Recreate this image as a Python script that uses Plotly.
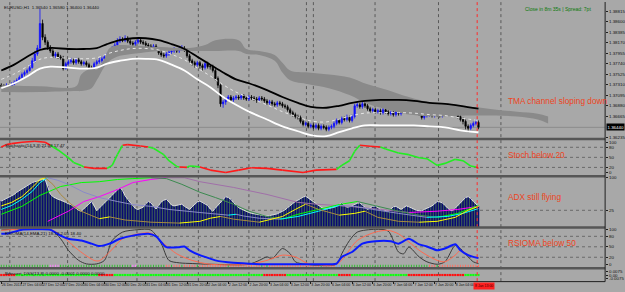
import plotly.graph_objects as go

# ================= DATA =================
opens = [1.3730, 1.3728, 1.3726, 1.3730, 1.3728, 1.3732, 1.3736, 1.3740, 1.3746, 1.3752,
         1.3756, 1.3760, 1.3766, 1.3780, 1.3794, 1.3806, 1.3856, 1.3828, 1.3818, 1.3808,
         1.3800, 1.3790, 1.3794, 1.3788, 1.3786, 1.3764, 1.3774, 1.3778, 1.3780, 1.3776,
         1.3782, 1.3778, 1.3774, 1.3776, 1.3772, 1.3766, 1.3764, 1.3774, 1.3778, 1.3780,
         1.3784, 1.3788, 1.3790, 1.3794, 1.3806, 1.3812, 1.3820, 1.3824, 1.3822, 1.3826,
         1.3820, 1.3816, 1.3814, 1.3818, 1.3822, 1.3818, 1.3816, 1.3812, 1.3810, 1.3808,
         1.3810, 1.3806, 1.3796, 1.3792, 1.3790, 1.3794, 1.3798, 1.3800, 1.3802, 1.3800,
         1.3804, 1.3806, 1.3802, 1.3790, 1.3780, 1.3776, 1.3772, 1.3776, 1.3770, 1.3766,
         1.3774, 1.3768, 1.3768, 1.3760, 1.3744, 1.3730, 1.3692, 1.3696, 1.3702, 1.3706,
         1.3700, 1.3704, 1.3706, 1.3704, 1.3708, 1.3704, 1.3702, 1.3706, 1.3704, 1.3702,
         1.3700, 1.3704, 1.3702, 1.3698, 1.3694, 1.3696, 1.3692, 1.3690, 1.3694, 1.3692,
         1.3688, 1.3686, 1.3680, 1.3674, 1.3670, 1.3666, 1.3664, 1.3656, 1.3650, 1.3652,
         1.3646, 1.3648, 1.3644, 1.3648, 1.3642, 1.3646, 1.3644, 1.3640, 1.3644, 1.3646,
         1.3652, 1.3658, 1.3654, 1.3662, 1.3660, 1.3664, 1.3658, 1.3666, 1.3688, 1.3690,
         1.3686, 1.3692, 1.3688, 1.3682, 1.3678, 1.3680, 1.3676, 1.3678, 1.3674, 1.3680,
         1.3676, 1.3672, 1.3674, 1.3670, 1.3676, 1.3672, 1.3680, 1.3688, 1.3684, 1.3686,
         1.3680, 1.3676, 1.3682, 1.3672, 1.3664, 1.3668, 1.3670, 1.3670, 1.3668, 1.3672,
         1.3670, 1.3668, 1.3674, 1.3676, 1.3672, 1.3678, 1.3674, 1.3672, 1.3666, 1.3660,
         1.3656, 1.3646, 1.3642, 1.3648, 1.3652, 1.3654]
highs = [1.3734, 1.3732, 1.3734, 1.3732, 1.3736, 1.3740, 1.3744, 1.3750, 1.3756, 1.3760,
         1.3764, 1.3772, 1.3786, 1.3800, 1.3812, 1.3886, 1.3864, 1.3834, 1.3822, 1.3812,
         1.3804, 1.3798, 1.3798, 1.3792, 1.3790, 1.3778, 1.3782, 1.3786, 1.3784, 1.3786,
         1.3786, 1.3782, 1.3780, 1.3780, 1.3776, 1.3770, 1.3778, 1.3782, 1.3786, 1.3788,
         1.3792, 1.3796, 1.3798, 1.3810, 1.3816, 1.3826, 1.3830, 1.3828, 1.3832, 1.3830,
         1.3824, 1.3820, 1.3822, 1.3828, 1.3826, 1.3822, 1.3820, 1.3816, 1.3814, 1.3814,
         1.3814, 1.3808, 1.3800, 1.3796, 1.3798, 1.3802, 1.3804, 1.3808, 1.3806, 1.3808,
         1.3812, 1.3810, 1.3806, 1.3794, 1.3784, 1.3780, 1.3780, 1.3780, 1.3774, 1.3778,
         1.3778, 1.3772, 1.3772, 1.3764, 1.3748, 1.3734, 1.3700, 1.3706, 1.3710, 1.3710,
         1.3708, 1.3710, 1.3710, 1.3712, 1.3712, 1.3708, 1.3710, 1.3710, 1.3708, 1.3706,
         1.3708, 1.3708, 1.3706, 1.3702, 1.3700, 1.3700, 1.3696, 1.3698, 1.3698, 1.3696,
         1.3692, 1.3690, 1.3684, 1.3678, 1.3674, 1.3670, 1.3668, 1.3660, 1.3656, 1.3656,
         1.3652, 1.3652, 1.3652, 1.3652, 1.3650, 1.3650, 1.3648, 1.3648, 1.3650, 1.3656,
         1.3662, 1.3662, 1.3666, 1.3666, 1.3670, 1.3668, 1.3670, 1.3692, 1.3696, 1.3694,
         1.3696, 1.3696, 1.3692, 1.3686, 1.3684, 1.3684, 1.3682, 1.3682, 1.3684, 1.3684,
         1.3680, 1.3678, 1.3678, 1.3680, 1.3680, 1.3684, 1.3692, 1.3692, 1.3690, 1.3690,
         1.3684, 1.3686, 1.3686, 1.3676, 1.3672, 1.3674, 1.3674, 1.3674, 1.3676, 1.3676,
         1.3674, 1.3678, 1.3680, 1.3680, 1.3682, 1.3682, 1.3678, 1.3676, 1.3670, 1.3664,
         1.3660, 1.3650, 1.3652, 1.3656, 1.3660, 1.3658]
lows = [1.3724, 1.3722, 1.3724, 1.3726, 1.3726, 1.3730, 1.3734, 1.3738, 1.3744, 1.3748,
        1.3752, 1.3758, 1.3764, 1.3776, 1.3790, 1.3802, 1.3822, 1.3812, 1.3802, 1.3796,
        1.3786, 1.3786, 1.3784, 1.3782, 1.3760, 1.3762, 1.3770, 1.3774, 1.3772, 1.3772,
        1.3774, 1.3770, 1.3770, 1.3768, 1.3762, 1.3760, 1.3762, 1.3770, 1.3774, 1.3776,
        1.3780, 1.3784, 1.3786, 1.3792, 1.3802, 1.3808, 1.3816, 1.3818, 1.3818, 1.3816,
        1.3812, 1.3810, 1.3810, 1.3814, 1.3814, 1.3812, 1.3808, 1.3806, 1.3804, 1.3804,
        1.3802, 1.3792, 1.3788, 1.3786, 1.3786, 1.3790, 1.3794, 1.3796, 1.3796, 1.3796,
        1.3800, 1.3798, 1.3786, 1.3776, 1.3770, 1.3766, 1.3768, 1.3764, 1.3760, 1.3762,
        1.3764, 1.3762, 1.3756, 1.3740, 1.3724, 1.3686, 1.3684, 1.3690, 1.3698, 1.3696,
        1.3696, 1.3700, 1.3700, 1.3700, 1.3700, 1.3698, 1.3698, 1.3700, 1.3698, 1.3694,
        1.3696, 1.3698, 1.3694, 1.3690, 1.3690, 1.3688, 1.3686, 1.3686, 1.3688, 1.3684,
        1.3682, 1.3676, 1.3670, 1.3666, 1.3662, 1.3660, 1.3652, 1.3646, 1.3646, 1.3642,
        1.3642, 1.3640, 1.3640, 1.3638, 1.3638, 1.3640, 1.3636, 1.3636, 1.3640, 1.3642,
        1.3648, 1.3650, 1.3650, 1.3656, 1.3656, 1.3654, 1.3654, 1.3662, 1.3684, 1.3682,
        1.3682, 1.3684, 1.3678, 1.3674, 1.3674, 1.3672, 1.3672, 1.3670, 1.3670, 1.3672,
        1.3668, 1.3668, 1.3666, 1.3666, 1.3668, 1.3668, 1.3676, 1.3680, 1.3680, 1.3676,
        1.3672, 1.3672, 1.3668, 1.3660, 1.3660, 1.3664, 1.3666, 1.3664, 1.3664, 1.3666,
        1.3664, 1.3664, 1.3670, 1.3668, 1.3668, 1.3670, 1.3668, 1.3662, 1.3656, 1.3650,
        1.3640, 1.3634, 1.3638, 1.3644, 1.3648, 1.3640]
closes = [1.3728, 1.3726, 1.3730, 1.3728, 1.3732, 1.3736, 1.3740, 1.3746, 1.3752, 1.3756,
          1.3760, 1.3766, 1.3780, 1.3794, 1.3806, 1.3856, 1.3828, 1.3818, 1.3808, 1.3800,
          1.3790, 1.3794, 1.3788, 1.3786, 1.3764, 1.3774, 1.3778, 1.3780, 1.3776, 1.3782,
          1.3778, 1.3774, 1.3776, 1.3772, 1.3766, 1.3764, 1.3774, 1.3778, 1.3780, 1.3784,
          1.3788, 1.3790, 1.3794, 1.3806, 1.3812, 1.3820, 1.3824, 1.3822, 1.3826, 1.3820,
          1.3816, 1.3814, 1.3818, 1.3822, 1.3818, 1.3816, 1.3812, 1.3810, 1.3808, 1.3810,
          1.3806, 1.3796, 1.3792, 1.3790, 1.3794, 1.3798, 1.3800, 1.3802, 1.3800, 1.3804,
          1.3806, 1.3802, 1.3790, 1.3780, 1.3776, 1.3772, 1.3776, 1.3770, 1.3766, 1.3774,
          1.3768, 1.3768, 1.3760, 1.3744, 1.3730, 1.3692, 1.3696, 1.3702, 1.3706, 1.3700,
          1.3704, 1.3706, 1.3704, 1.3708, 1.3704, 1.3702, 1.3706, 1.3704, 1.3702, 1.3700,
          1.3704, 1.3702, 1.3698, 1.3694, 1.3696, 1.3692, 1.3690, 1.3694, 1.3692, 1.3688,
          1.3686, 1.3680, 1.3674, 1.3670, 1.3666, 1.3664, 1.3656, 1.3650, 1.3652, 1.3646,
          1.3648, 1.3644, 1.3648, 1.3642, 1.3646, 1.3644, 1.3640, 1.3644, 1.3646, 1.3652,
          1.3658, 1.3654, 1.3662, 1.3660, 1.3664, 1.3658, 1.3666, 1.3688, 1.3690, 1.3686,
          1.3692, 1.3688, 1.3682, 1.3678, 1.3680, 1.3676, 1.3678, 1.3674, 1.3680, 1.3676,
          1.3672, 1.3674, 1.3670, 1.3676, 1.3672, 1.3680, 1.3688, 1.3684, 1.3686, 1.3680,
          1.3676, 1.3682, 1.3672, 1.3664, 1.3668, 1.3670, 1.3670, 1.3668, 1.3672, 1.3670,
          1.3668, 1.3674, 1.3676, 1.3672, 1.3678, 1.3674, 1.3672, 1.3666, 1.3660, 1.3656,
          1.3646, 1.3642, 1.3648, 1.3652, 1.3654, 1.3644]
bars = list(range(len(closes)))

tma_bars = [0, 5, 10, 15, 19, 26, 32, 37, 41, 46, 51, 56, 61, 66, 71, 76, 81, 86, 91, 96,
            103, 109, 115, 120, 126, 131, 136, 141, 147, 154, 160, 166, 172, 178, 185]
tma_upper = [1.3760, 1.3772, 1.3788, 1.3802, 1.3806, 1.3804, 1.3804, 1.3806, 1.3814, 1.3822,
             1.3826, 1.3826, 1.3822, 1.3814, 1.3804, 1.3788, 1.3772, 1.3756, 1.3742, 1.3734,
             1.3720, 1.3706, 1.3694, 1.3686, 1.3684, 1.3688, 1.3694, 1.3698, 1.3700, 1.3700,
             1.3698, 1.3694, 1.3692, 1.3688, 1.3682]
tma_mid = [1.3742, 1.3753, 1.3768, 1.3783, 1.3787, 1.3785, 1.3784, 1.3786, 1.3794, 1.3801,
           1.3805, 1.3805, 1.3802, 1.3793, 1.3782, 1.3765, 1.3749, 1.3731, 1.3716, 1.3705,
           1.3690, 1.3676, 1.3665, 1.3657, 1.3655, 1.3661, 1.3668, 1.3673, 1.3674, 1.3674,
           1.3673, 1.3670, 1.3668, 1.3663, 1.3658]
tma_lower = [1.3724, 1.3734, 1.3748, 1.3764, 1.3768, 1.3766, 1.3764, 1.3766, 1.3774, 1.3780,
             1.3784, 1.3784, 1.3782, 1.3772, 1.3760, 1.3742, 1.3726, 1.3706, 1.3690, 1.3676,
             1.3660, 1.3646, 1.3636, 1.3628, 1.3626, 1.3634, 1.3642, 1.3648, 1.3648, 1.3648,
             1.3648, 1.3646, 1.3644, 1.3638, 1.3634]

cloud_bars = [0, 15, 29, 31, 35, 37, 40, 42, 46, 54, 62, 73, 79, 83, 92, 95, 100, 106, 109, 112,
              119, 127, 135, 142, 150, 158, 169, 181, 186, 192, 200, 208, 212]
cloud_span_a = [1.3730, 1.3728, 1.3728, 1.3752, 1.3764, 1.3762, 1.3784, 1.3806, 1.3812, 1.3810,
                1.3808, 1.3806, 1.3812, 1.3822, 1.3822, 1.3804, 1.3800, 1.3792, 1.3776, 1.3760,
                1.3756, 1.3752, 1.3746, 1.3732, 1.3720, 1.3706, 1.3692, 1.3686, 1.3684, 1.3680,
                1.3676, 1.3672, 1.3666]
cloud_span_b = [1.3716, 1.3716, 1.3718, 1.3718, 1.3724, 1.3740, 1.3768, 1.3780, 1.3790, 1.3796,
                1.3800, 1.3800, 1.3800, 1.3800, 1.3800, 1.3794, 1.3792, 1.3780, 1.3756, 1.3740,
                1.3732, 1.3724, 1.3710, 1.3692, 1.3680, 1.3670, 1.3666, 1.3668, 1.3668, 1.3668,
                1.3666, 1.3660, 1.3652]

# right-hand price scale (the one at the bid price is hidden by the price box)
price_ticks = [1.36235, 1.36665, 1.36880, 1.37095, 1.37310, 1.37525, 1.37740, 1.37955,
               1.38170, 1.38385, 1.38600, 1.38815]

stoch_bars = [0, 2, 4, 8, 13, 17, 19, 22, 26, 28, 31, 32, 36, 41, 43, 45, 47, 49, 54, 57,
              59, 63, 65, 68, 69, 72, 73, 75, 77, 81, 87, 92, 97, 103, 109, 117, 122, 130, 132, 135,
              137, 139, 143, 147, 149, 154, 158, 162, 165, 169, 172, 176, 179, 182, 184, 185]
stoch_vals = [81, 88, 91, 95, 98, 95, 86, 72, 49, 35, 26, 21, 17, 17, 26, 58, 86, 88, 84, 81,
              77, 58, 40, 23, 21, 20, 24, 23, 21, 12, 5, 12, 19, 17, 12, 5, 12, 14, 26, 40,
              68, 86, 83, 81, 75, 63, 58, 49, 46, 26, 32, 44, 40, 24, 21, 17]
# MT4 keeps the end labels inside the window
stoch_tick_pos = [6, 20, 50, 80, 94]
stoch_tick_text = ["0", "20", "50", "80", "100"]

adx_hist = [46, 49, 52, 55, 58, 61, 66, 70, 73, 77,
            81, 85, 88, 90, 92, 94, 95, 95, 80, 62,
            56, 52, 50, 48, 46, 43, 40, 38, 34, 29,
            25, 23, 28, 33, 40, 45, 35, 24, 30, 36,
            41, 47, 52, 60, 66, 72, 77, 70, 58, 50,
            43, 36, 29, 27, 30, 32, 40, 45, 42, 35,
            28, 36, 44, 48, 50, 44, 37, 35, 36, 38,
            39, 34, 30, 27, 33, 39, 44, 46, 43, 40,
            36, 28, 23, 30, 36, 42, 50, 56, 54, 50,
            43, 36, 31, 28, 25, 22, 20, 18, 17, 16,
            16, 14, 13, 12, 13, 14, 15, 17, 20, 23,
            26, 31, 36, 41, 45, 48, 52, 55, 57, 53,
            48, 43, 39, 35, 31, 28, 28, 29, 30, 32,
            34, 39, 42, 37, 32, 33, 36, 39, 41, 42,
            38, 32, 27, 30, 34, 35, 31, 27, 26, 24,
            23, 28, 33, 34, 30, 27, 31, 35, 33, 30,
            27, 25, 24, 24, 27, 30, 33, 35, 40, 45,
            44, 42, 36, 30, 25, 24, 30, 35, 41, 48,
            54, 56, 52, 45, 39, 34]

adx1_bars = [0, 4, 8, 12, 15, 17, 20, 23, 27, 31, 35, 38, 42, 48, 58, 69, 77, 81, 85, 90,
             100, 109, 114, 118, 123, 131, 137, 141, 146, 154, 162, 169, 176, 181, 185]
adx1_vals = [35, 43, 56, 77, 95, 99, 84, 61, 39, 23, 13, 6, 10, 3, -2, -4, 0, 7, 11, 5,
             -2, 11, 27, 39, 27, 14, 18, 23, 9, 0, -2, 0, 9, 25, 34]
adx2_bars = [0, 4, 8, 12, 15, 18, 22, 26, 32, 38, 45, 51, 58, 65, 77, 88, 91, 94, 100, 108,
             115, 123, 131, 137, 144, 154, 165, 173, 179, 185]
adx2_vals = [27, 36, 50, 68, 88, 99, 93, 84, 66, 54, 45, 38, 34, 27, 20, 14, 16, 12, 7, 5,
             11, 23, 36, 34, 27, 18, 9, 11, 18, 29]
adx3_bars = [0, 8, 15, 23, 31, 38, 45, 51, 58, 64, 70, 77, 83, 90, 96, 103, 109, 115, 123, 131,
             138, 146, 154, 162, 169, 177, 181, 185]
adx3_vals = [16, 34, 59, 79, 88, 90, 95, 97, 99, 97, 84, 66, 54, 39, 23, 11, 5, 16, 27, 38,
             45, 34, 23, 14, 9, 18, 27, 36]
adx4_bars = [18, 26, 32, 38, 45, 51, 58, 64, 71, 77, 90, 103, 115, 122, 135, 147, 158, 169, 177, 185]
adx4_vals = [0, 23, 45, 56, 72, 88, 95, 99, 99, 90, 77, 61, 43, 39, 34, 27, 20, 23, 27, 34]

rsi_blue_bars = [0, 3, 8, 13, 19, 23, 26, 31, 35, 38, 42, 46, 51, 57, 60, 64, 69, 71, 73, 77,
                 81, 83, 90, 103, 115, 128, 130, 132, 136, 140, 145, 151, 154, 158, 162, 165,
                 169, 172, 176, 178, 181, 183, 185]
rsi_blue_vals = [87, 89, 99, 100, 99, 82, 73, 68, 59, 52, 59, 73, 82, 87, 80, 49, 49, 51, 40, 26,
                 16, 11, 4, 0, 0, 0, 2, 21, 35, 59, 66, 66, 59, 73, 57, 51,
                 40, 45, 57, 40, 26, 21, 18]
rsi_gray_bars = [0, 19, 23, 26, 30, 33, 37, 40, 43, 47, 53, 58, 62, 65, 69, 74, 81, 96, 100, 103,
                 105, 109, 112, 114, 118, 130, 132, 135, 138, 145, 150, 154, 156, 158, 162, 165,
                 169, 172, 176, 178, 181, 183, 185]
rsi_gray_vals = [98, 99, 73, 40, 11, 1, 1, 11, 68, 92, 99, 98, 59, 11, 4, 2, 0, 0, 11, 21,
                 16, 45, 30, 7, 0, 0, 30, 68, 92, 100, 95, 35, 30, 49, 21, 7,
                 0, 7, 54, 45, 21, 7, 2]
rsi_red_bars = [0, 19, 24, 30, 36, 38, 42, 47, 53, 58, 63, 68, 74, 81, 96, 103, 109, 114, 119, 130,
                133, 138, 145, 150, 154, 158, 162, 165, 169, 172, 176, 178, 181, 183, 185]
rsi_red_vals = [97, 100, 78, 40, 11, 10, 35, 73, 87, 89, 59, 30, 11, 0, 0, 11, 26, 21, 2, 0,
                21, 68, 92, 97, 87, 64, 40, 26, 11, 7, 26, 40, 26, 21, 18]

rsi_tick_runs = [("g", 19), ("p", 4), ("g", 28), ("p", 2), ("g", 11),
                 ("r", 2), ("g", 1), ("r", 3), ("g", 1), ("r", 5), ("g", 1), ("r", 4),
                 ("r", 7), ("g", 1), ("r", 12), ("g", 1), ("r", 1), ("g", 1), ("r", 20), ("g", 1), ("r", 5),
                 ("b", 2), ("g", 34), ("r", 3), ("g", 1), ("r", 16)]
dss_runs = [("r", 6), ("g", 32), ("r", 6), ("g", 58), ("r", 9), ("g", 20), ("r", 5),
            ("g", 22), ("r", 22), ("g", 6)]

date_tick_bars = [0, 8, 16, 24, 32, 40, 48, 56, 64, 72, 80, 88, 96, 104, 112, 120, 128, 136,
                  144, 152, 160, 168, 176]
date_labels = ["26 Dec 2013", "27 Dec 04:00", "27 Dec 12:00", "27 Dec 20:00", "30 Dec 04:00",
               "30 Dec 12:00", "30 Dec 20:00", "31 Dec 04:00", "31 Dec 12:00", "31 Dec 20:00",
               "2 Jan 04:00", "2 Jan 12:00", "2 Jan 20:00", "3 Jan 04:00", "3 Jan 12:00",
               "3 Jan 20:00", "6 Jan 04:00", "6 Jan 12:00", "6 Jan 20:00", "7 Jan 04:00",
               "7 Jan 12:00", "7 Jan 20:00", "8 Jan 04:00"]
separator_bars = [3.3, 25.7, 52.6, 76.4, 96.0, 118.3, 121.0, 144.9, 169.5, 193.7]
current_bar_line = 184.5
current_time_label = "8 Jan 13:00"

# ================= STYLE / LAYOUT =================
W, H = 625, 292
XR = 610 / W
BG = "#a8a8a8"
TXT = "#101010"
SMALL = dict(family="Liberation Sans, Arial", size=4.4, color=TXT)
DATEF = dict(family="Liberation Sans, Arial", size=3.5, color=TXT)
RED_TXT = "#ee4422"


def pp(p):
    return 1 - p / H


PRICE_RANGE = [1.3622, 1.3900]
STOCH_RANGE = [-4.4, 101.5]
ADX_RANGE = [-13.3, 100.5]
RSI_RANGE = [-9.4, 102.8]
DSS_RANGE = [-0.012, 0.012]

fig = go.Figure()


def add_seg(xs, ys, colfn, yaxis, width):
    groups = {}
    for i in range(len(xs) - 1):
        c = colfn(ys[i], ys[i + 1])
        gx, gy = groups.setdefault(c, ([], []))
        gx += [xs[i], xs[i + 1], None]
        gy += [ys[i], ys[i + 1], None]
    for c, (gx, gy) in groups.items():
        fig.add_trace(go.Scatter(x=gx, y=gy, mode="lines", yaxis=yaxis, hoverinfo="skip",
                                 line=dict(color=c, width=width)))


# ---- main panel ----
fig.add_trace(go.Scatter(x=cloud_bars, y=cloud_span_a, mode="lines", yaxis="y",
                         line=dict(width=0, color="#8a8a8a", shape="spline"), hoverinfo="skip"))
fig.add_trace(go.Scatter(x=cloud_bars, y=cloud_span_b, mode="lines", yaxis="y", fill="tonexty",
                         fillcolor="#8a8a8a", line=dict(width=0, color="#8a8a8a", shape="spline"),
                         hoverinfo="skip"))
fig.add_trace(go.Scatter(x=tma_bars, y=tma_mid, mode="lines", yaxis="y", hoverinfo="skip",
                         line=dict(color="#e6e6e6", width=1, dash="dot", shape="spline")))
fig.add_trace(go.Candlestick(x=bars, open=opens, high=highs, low=lows, close=closes, yaxis="y",
                             whiskerwidth=0, hoverinfo="skip",
                             increasing=dict(line=dict(color="#1010ff", width=0.8), fillcolor="#1010ff"),
                             decreasing=dict(line=dict(color="#000000", width=0.8), fillcolor="#000000")))
fig.add_trace(go.Scatter(x=tma_bars, y=tma_upper, mode="lines", yaxis="y", hoverinfo="skip",
                         line=dict(color="#000000", width=1.8, shape="spline")))
fig.add_trace(go.Scatter(x=tma_bars, y=tma_lower, mode="lines", yaxis="y", hoverinfo="skip",
                         line=dict(color="#ffffff", width=1.8, shape="spline")))

# ---- stochastic ----
add_seg(stoch_bars, stoch_vals,
        lambda a, b: "#ff1a1a" if (min(a, b) >= 80 or max(a, b) <= 22) else "#22ee22",
        "y2", 1.6)

# ---- ADX panel ----
ADX_BOT = ADX_RANGE[0]
fig.add_trace(go.Scatter(x=bars + [bars[-1], bars[0]], y=adx_hist + [ADX_BOT, ADX_BOT],
                         mode="lines", fill="toself", fillcolor="#3f5f58", line=dict(width=0),
                         yaxis="y3", hoverinfo="skip"))
hx, hy = [], []
for b, v in zip(bars, adx_hist):
    hx += [b, b, None]
    hy += [ADX_BOT, v, None]
fig.add_trace(go.Scatter(x=hx, y=hy, mode="lines", yaxis="y3", hoverinfo="skip",
                         line=dict(color="#0a0a72", width=1.5)))
fig.add_trace(go.Scatter(x=bars, y=adx_hist, mode="lines", yaxis="y3", hoverinfo="skip",
                         line=dict(color="#dcdcdc", width=1)))
for xs, ys, up, dn in [(adx4_bars, adx4_vals, "#ff00ff", "#a070a8"),
                       (adx3_bars, adx3_vals, "#00ff00", "#3c8a50"),
                       (adx2_bars, adx2_vals, "#00ffff", "#8a8ac8"),
                       (adx1_bars, adx1_vals, "#ffff00", "#a88a40")]:
    add_seg(xs, ys, lambda a, b, u=up, d=dn: u if b > a else d, "y3", 1)

# ---- RSIOMA ----
state_col = {"g": "#30c030", "p": "#ff80ff", "r": "#ff7060", "b": "#60a0ff"}
tick_states = [s for s, n in rsi_tick_runs for _ in range(n)]
tx = {}
for b, s in zip(bars, tick_states):
    gx, gy = tx.setdefault(s, ([], []))
    gx += [b, b, None]
    gy += [-8.5, -1.5, None]
for s, (gx, gy) in tx.items():
    fig.add_trace(go.Scatter(x=gx, y=gy, mode="lines", yaxis="y4", hoverinfo="skip",
                             line=dict(color=state_col[s], width=1)))
fig.add_trace(go.Scatter(x=rsi_gray_bars, y=rsi_gray_vals, mode="lines", yaxis="y4", hoverinfo="skip",
                         line=dict(color="#3a3a3a", width=1, shape="spline", smoothing=0.8)))
fig.add_trace(go.Scatter(x=rsi_red_bars, y=rsi_red_vals, mode="lines", yaxis="y4", hoverinfo="skip",
                         line=dict(color="#ff6a50", width=1, shape="spline", smoothing=0.8)))
fig.add_trace(go.Scatter(x=rsi_blue_bars, y=rsi_blue_vals, mode="lines", yaxis="y4", hoverinfo="skip",
                         line=dict(color="#0a1aff", width=2, shape="spline", smoothing=0.6)))

# ---- DSS dots ----
dss_states = [s for s, n in dss_runs for _ in range(n)]
dss_col = {"r": "#ff1010", "g": "#10ff10"}
fig.add_trace(go.Scatter(x=bars, y=[0.0] * len(bars), mode="markers", yaxis="y5", hoverinfo="skip",
                         marker=dict(symbol="square", size=2.2, color=[dss_col[s] for s in dss_states],
                                     line=dict(width=0))))

# ================= SHAPES =================
shapes = []
for sb in separator_bars:
    shapes.append(dict(type="line", xref="x", yref="paper", x0=sb, x1=sb, y0=pp(283), y1=1,
                       line=dict(color="#5a5a5a", width=1, dash="dot"), layer="below"))
shapes.append(dict(type="line", xref="x", yref="paper", x0=current_bar_line, x1=current_bar_line,
                   y0=pp(283), y1=1, line=dict(color="#ff2a2a", width=1, dash="dot"), layer="above"))
for yref, lv in [("y2", 80), ("y2", 50), ("y2", 20), ("y3", 25), ("y4", 80), ("y4", 50), ("y4", 20)]:
    shapes.append(dict(type="line", xref="paper", yref=yref, x0=0, x1=XR, y0=lv, y1=lv,
                       line=dict(color="#6a6a6a", width=1, dash="dot"), layer="below"))
shapes.append(dict(type="line", xref="paper", yref="y", x0=0, x1=XR, y0=closes[-1], y1=closes[-1],
                   line=dict(color="#8c8c8c", width=1), layer="below"))
for p, w, c in [(139, 2.5, "#565656"), (176.6, 2.5, "#565656"), (228.7, 2.5, "#565656"),
                (269.9, 2.5, "#565656"), (283.5, 1, "#202020")]:
    shapes.append(dict(type="line", xref="paper", yref="paper", x0=0, x1=XR, y0=pp(p), y1=pp(p),
                       line=dict(color=c, width=w)))
shapes.append(dict(type="line", xref="paper", yref="paper", x0=XR, x1=XR, y0=pp(283.5), y1=1,
                   line=dict(color="#202020", width=1)))

# ================= ANNOTATIONS =================
ann = []
red_font = dict(family="Liberation Sans, Arial", size=8.3, color=RED_TXT)
for txt, ypx in [("TMA channel sloping down", 100), ("Stoch below 20", 155),
                 ("ADX still flying", 198), ("RSIOMA below 50", 244)]:
    ann.append(dict(text=txt, xref="paper", yref="paper", x=510 / W, y=pp(ypx), xanchor="left",
                    yanchor="middle", showarrow=False, font=red_font))
ann.append(dict(text="EURUSD,H1  %.5f %.5f %.5f %.5f" % (opens[-1], highs[-1], lows[-1], closes[-1]),
                xref="paper", yref="paper", x=2 / W, y=pp(1), xanchor="left", yanchor="top",
                showarrow=False, font=SMALL))
ann.append(dict(text="Close in 8m 35s | Spread: 7pt", xref="paper", yref="paper", x=598 / W, y=pp(2.5),
                xanchor="right", yanchor="top", showarrow=False,
                font=dict(family="Liberation Sans, Arial", size=5, color="#0a7a0a")))
for txt, ypx in [("Stochastic(14,3,3) 21.08 17.47", 141), ("RSIOMA(14,EMA,21) 18.12 2.05 18.40", 230.5),
                 ("Bressert_DSS(13,8) 0.0000 -0.0001 0.0000 0.0000", 271)]:
    ann.append(dict(text=txt, xref="paper", yref="paper", x=3 / W, y=pp(ypx), xanchor="left",
                    yanchor="top", showarrow=False, font=SMALL))
ann.append(dict(text="%.5f" % closes[-1], xref="paper", yref="y", x=XR + 0.001, y=closes[-1],
                xanchor="left", yanchor="middle", showarrow=False, bgcolor="#000000",
                font=dict(family="Liberation Sans, Arial", size=4.4, color="#ffffff"),
                borderpad=0.5))
ann.append(dict(text=current_time_label, xref="paper", yref="paper", x=477 / W, y=pp(287.8),
                xanchor="left", yanchor="middle", showarrow=False, bgcolor="#ff2020",
                font=dict(family="Liberation Sans, Arial", size=3.5, color="#400000"),
                borderpad=1))

ax_common = dict(side="right", anchor="x", showgrid=False, zeroline=False, showline=False,
                 ticks="outside", ticklen=2, tickcolor="#202020", tickfont=SMALL, fixedrange=True)

fig.update_layout(
    width=W, height=H, margin=dict(l=0, r=0, t=0, b=0),
    paper_bgcolor=BG, plot_bgcolor=BG, showlegend=False, hovermode=False,
    xaxis=dict(domain=[0, XR], range=[-0.5, 234.1], anchor="y5", tickvals=date_tick_bars,
               ticktext=date_labels, ticks="outside", ticklen=2, tickcolor="#202020",
               tickfont=DATEF, tickangle=0, ticklabelposition="outside right", showgrid=False,
               zeroline=False, showline=False, rangeslider=dict(visible=False), fixedrange=True),
    yaxis=dict(domain=[pp(138), 1], range=PRICE_RANGE, tickvals=price_ticks, tickformat=".5f",
               **ax_common),
    yaxis2=dict(domain=[pp(176), pp(140)], range=STOCH_RANGE, tickvals=stoch_tick_pos,
                ticktext=stoch_tick_text, **ax_common),
    yaxis3=dict(domain=[pp(228.3), pp(177.5)], range=ADX_RANGE, tickvals=[25, 100], **ax_common),
    yaxis4=dict(domain=[pp(269.2), pp(229.5)], range=RSI_RANGE, tickvals=[0, 20, 50, 80, 100],
                **ax_common),
    yaxis5=dict(domain=[pp(283), pp(270.6)], range=DSS_RANGE, tickvals=[-0.0075, 0, 0.0075],
                ticktext=["-0.0075", "0.00", "0.0075"], **ax_common),
    shapes=shapes, annotations=ann,
)

fig.write_html("out.html")
